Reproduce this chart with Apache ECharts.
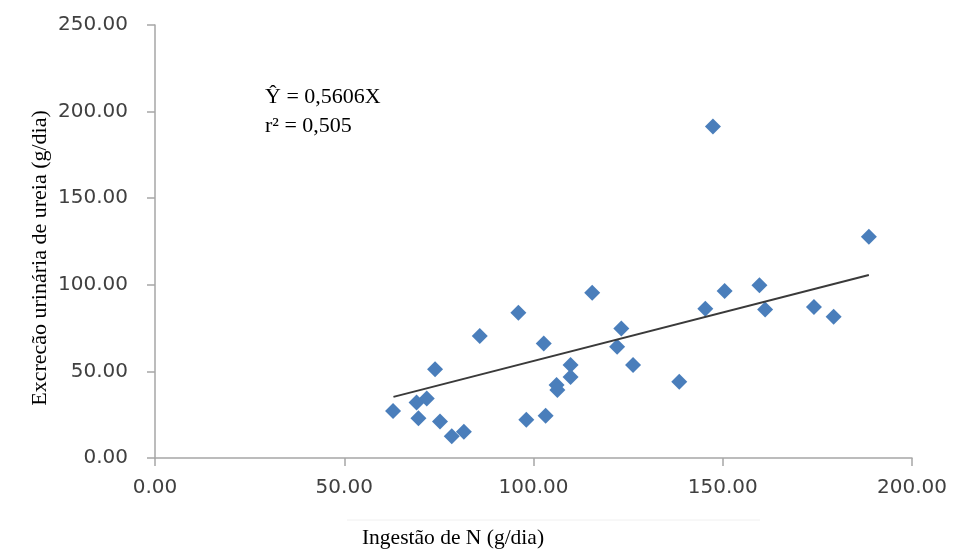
<!DOCTYPE html>
<html>
<head>
<meta charset="utf-8">
<script src="https://cdn.jsdelivr.net/npm/echarts@6/dist/echarts.min.js"></script>
<style>html,body{margin:0;padding:0;background:#fff}#c{width:955px;height:555px}</style>
</head>
<body>
<div id="c"></div>
<script>
const xValues = [62.9, 69.1, 71.8, 69.6, 74.0, 75.3, 78.4, 81.6, 85.8, 96.0, 98.1, 103.2, 102.7, 106.1, 106.3, 109.8, 109.8, 115.5, 123.2, 122.1, 126.3, 147.4, 188.6, 159.7, 150.5, 145.4, 161.2, 174.1, 179.3, 138.5];
const yValues = [27.2, 32.1, 34.4, 22.9, 51.3, 21.1, 12.5, 15.2, 70.5, 83.9, 22.1, 24.4, 66.1, 42.2, 39.3, 53.7, 46.8, 95.4, 74.7, 64.3, 53.7, 191.4, 127.7, 99.7, 96.4, 86.2, 85.8, 87.2, 81.6, 44.0];
const trendX = [63.0, 188.6];
const trendY = [35.3, 105.7];
const xTicks = [0, 50, 100, 150, 200];
const yTicks = [0, 50, 100, 150, 200, 250];
const eqLine1 = 'Ŷ = 0,5606X';
const eqLine2 = 'r² = 0,505';
const xTitle = 'Ingestão de N (g/dia)';
const yTitle = 'Excrecão urinária de ureia (g/dia)';

const points = xValues.map((x, i) => [x, yValues[i]]);
const trend = trendX.map((x, i) => [x, trendY[i]]);

const axisColor = '#a6a6a6';
const labelStyle = {color: '#404040', fontFamily: 'DejaVu Sans', fontSize: 20, formatter: v => v.toFixed(2)};

const chart = echarts.init(document.getElementById('c'), null, {renderer: 'canvas'});
chart.setOption({
  animation: false,
  backgroundColor: '#fff',
  grid: {left: 155, right: 43, top: 25, bottom: 97, containLabel: false},
  xAxis: {
    type: 'value', min: xTicks[0], max: xTicks[xTicks.length - 1], interval: 50,
    axisLine: {show: true, lineStyle: {color: axisColor, width: 1.5}},
    axisTick: {show: true, length: 8, lineStyle: {color: axisColor, width: 1.5}},
    splitLine: {show: false},
    axisLabel: Object.assign({margin: 20}, labelStyle)
  },
  yAxis: {
    type: 'value', min: yTicks[0], max: yTicks[yTicks.length - 1], interval: 50,
    axisLine: {show: true, lineStyle: {color: axisColor, width: 1.5}},
    axisTick: {show: true, length: 8, lineStyle: {color: axisColor, width: 1.5}},
    splitLine: {show: false},
    axisLabel: Object.assign({margin: 27}, labelStyle)
  },
  series: [
    {
      type: 'line', data: trend, showSymbol: false, symbol: 'none',
      lineStyle: {color: '#3a3a3a', width: 2}, z: 3
    },
    {
      type: 'scatter', data: points, symbol: 'diamond', symbolSize: 16,
      itemStyle: {color: '#4a7ebb', opacity: 1}, z: 2
    }
  ],
  graphic: [
    {type: 'text', x: 265, y: 97, style: {text: eqLine1, fill: '#000', font: '22px "Liberation Serif"', verticalAlign: 'middle'}},
    {type: 'text', x: 265, y: 126, style: {text: eqLine2, fill: '#000', font: '22px "Liberation Serif"', verticalAlign: 'middle'}},
    {type: 'text', x: 453, y: 538, style: {text: xTitle, fill: '#000', font: '21.5px "Liberation Serif"', align: 'center', verticalAlign: 'middle'}},
    {type: 'text', x: 40, y: 258, rotation: Math.PI / 2, style: {text: yTitle, fill: '#000', font: '22px "Liberation Serif"', align: 'center', verticalAlign: 'middle'}},
    {type: 'line', shape: {x1: 347, y1: 520, x2: 760, y2: 520}, style: {stroke: '#f0f0f0', lineWidth: 1}}
  ]
});
</script>
</body>
</html>
